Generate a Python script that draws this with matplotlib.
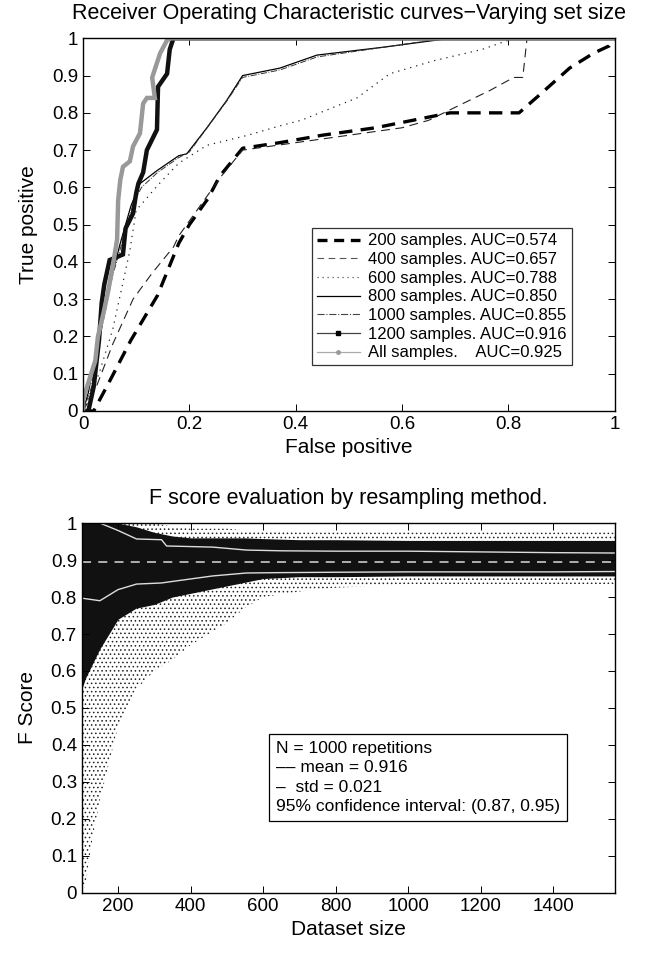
import matplotlib
matplotlib.use('Agg')
import matplotlib.pyplot as plt
from matplotlib.lines import Line2D
import numpy as np

plt.rcParams['font.family'] = ['Liberation Sans', 'DejaVu Sans']
plt.rcParams['hatch.linewidth'] = 0.6

# ---- ROC curves (false positive, true positive)
fp_200 = [0, 0.02, 0.05, 0.09, 0.14, 0.18, 0.20, 0.235, 0.257, 0.30, 0.37, 0.45, 0.55, 0.62, 0.69, 0.784, 0.82, 0.86, 0.915, 0.96, 0.99, 1.0]
tp_200 = [0, 0.0, 0.08, 0.19, 0.31, 0.45, 0.50, 0.57, 0.63, 0.705, 0.72, 0.74, 0.76, 0.78, 0.80, 0.80, 0.80, 0.85, 0.92, 0.96, 0.98, 1.0]

fp_400 = [0, 0.025, 0.056, 0.094, 0.13, 0.17, 0.18, 0.22, 0.26, 0.30, 0.45, 0.60, 0.65, 0.70, 0.765, 0.81, 0.827, 0.835, 1.0]
tp_400 = [0, 0.065, 0.18, 0.30, 0.37, 0.44, 0.47, 0.55, 0.63, 0.70, 0.73, 0.76, 0.78, 0.815, 0.86, 0.895, 0.895, 1.0, 1.0]

fp_600 = [0, 0.03, 0.056, 0.088, 0.10, 0.107, 0.14, 0.18, 0.233, 0.31, 0.37, 0.41, 0.515, 0.577, 0.66, 0.75, 0.80, 0.82, 1.0]
tp_600 = [0, 0.10, 0.22, 0.43, 0.54, 0.55, 0.605, 0.665, 0.713, 0.74, 0.765, 0.78, 0.84, 0.905, 0.94, 0.97, 0.995, 1.0, 1.0]

fp_800 = [0, 0.01, 0.03, 0.05, 0.07, 0.09, 0.107, 0.139, 0.18, 0.195, 0.233, 0.27, 0.30, 0.37, 0.44, 0.564, 0.69, 1.0]
tp_800 = [0, 0.05, 0.20, 0.34, 0.45, 0.55, 0.61, 0.645, 0.685, 0.69, 0.76, 0.833, 0.90, 0.92, 0.955, 0.976, 1.0, 1.0]

fp_1000 = [0, 0.015, 0.035, 0.055, 0.075, 0.095, 0.11, 0.14, 0.18, 0.20, 0.236, 0.272, 0.30, 0.37, 0.44, 0.56, 0.68, 1.0]
tp_1000 = [0, 0.06, 0.22, 0.36, 0.46, 0.56, 0.60, 0.64, 0.68, 0.695, 0.765, 0.835, 0.895, 0.915, 0.95, 0.975, 1.0, 1.0]

fp_1200 = [0, 0.01, 0.02, 0.03, 0.035, 0.04, 0.05, 0.075, 0.08, 0.094, 0.10, 0.104, 0.113, 0.12, 0.139, 0.141, 0.158, 0.163, 0.17, 1.0]
tp_1200 = [0, 0.0, 0.065, 0.19, 0.29, 0.34, 0.405, 0.42, 0.49, 0.53, 0.585, 0.61, 0.64, 0.70, 0.755, 0.87, 0.905, 0.97, 1.0, 1.0]

fp_all = [0, 0.0, 0.013, 0.023, 0.028, 0.038, 0.047, 0.056, 0.064, 0.066, 0.07, 0.075, 0.088, 0.094, 0.107, 0.113, 0.12, 0.135, 0.13, 0.145, 0.158, 0.165, 1.0]
tp_all = [0, 0.03, 0.09, 0.135, 0.20, 0.26, 0.32, 0.39, 0.46, 0.565, 0.62, 0.655, 0.67, 0.71, 0.745, 0.825, 0.84, 0.84, 0.895, 0.96, 0.995, 1.0, 1.0]

roc_labels = ['200 samples. AUC=0.574', '400 samples. AUC=0.657', '600 samples. AUC=0.788',
              '800 samples. AUC=0.850', '1000 samples. AUC=0.855', '1200 samples. AUC=0.916',
              'All samples.    AUC=0.925']

# ---- F score resampling cloud: envelopes
size_pts = [100, 110, 130, 150, 175, 200, 250, 300, 350, 400, 450, 500, 550, 600, 700, 800, 1000, 1200, 1400, 1570]
sparse_lo = [0.0, 0.02, 0.15, 0.25, 0.35, 0.45, 0.55, 0.60, 0.63, 0.67, 0.70, 0.73, 0.77, 0.80, 0.815, 0.825, 0.835, 0.835, 0.835, 0.835]
sparse_hi = [1.0, 1.0, 1.0, 1.0, 1.0, 1.0, 1.0, 1.0, 0.99, 0.985, 0.985, 0.985, 0.98, 0.98, 0.975, 0.975, 0.975, 0.975, 0.975, 0.975]
dense_lo = [0.55, 0.58, 0.62, 0.66, 0.70, 0.74, 0.77, 0.78, 0.80, 0.81, 0.82, 0.83, 0.84, 0.85, 0.855, 0.855, 0.857, 0.857, 0.857, 0.857]
dense_hi = [1.0, 1.0, 1.0, 1.0, 1.0, 1.0, 0.99, 0.975, 0.965, 0.96, 0.96, 0.96, 0.96, 0.958, 0.955, 0.955, 0.953, 0.953, 0.953, 0.953]

std_size = [100, 150, 200, 251, 320, 334, 461, 554, 650, 800, 1000, 1200, 1400, 1570]
std_hi = [1.0, 1.0, 0.98, 0.957, 0.955, 0.938, 0.935, 0.927, 0.925, 0.924, 0.924, 0.922, 0.92, 0.919]
std_lo = [0.797, 0.79, 0.82, 0.835, 0.838, 0.84, 0.857, 0.865, 0.866, 0.867, 0.868, 0.868, 0.868, 0.869]
f_mean = 0.895

box_text = ('N = 1000 repetitions\n'
            '\u2013\u2013 mean = 0.916\n'
            '\u2013  std = 0.021\n'
            '95% confidence interval: (0.87, 0.95)')

fig = plt.figure(figsize=(6.54, 9.58), dpi=100)

# ---------------- top: ROC curves
ax1 = fig.add_axes([0.127, 0.571, 0.813, 0.389])
ax1.plot(fp_200, tp_200, color='k', lw=2.4, ls=(0, (4, 2.5)))
ax1.plot(fp_400, tp_400, color='#222222', lw=0.8, ls=(0, (8, 5)))
ax1.plot(fp_600, tp_600, color='#222222', lw=0.9, ls=(0, (1, 4)))
ax1.plot(fp_800, tp_800, color='k', lw=0.9)
ax1.plot(fp_1000, tp_1000, color='#333333', lw=0.7, ls='-.')
ax1.plot(fp_1200, tp_1200, color='#111111', lw=3.2, solid_joinstyle='miter')
ax1.plot(fp_all, tp_all, color='#999999', lw=3.2, solid_joinstyle='miter')

handles = [
    Line2D([], [], color='k', lw=2.4, ls=(0, (3, 2))),
    Line2D([], [], color='#555555', lw=0.8, ls=(0, (6, 4))),
    Line2D([], [], color='#555555', lw=0.9, ls=(0, (1, 3))),
    Line2D([], [], color='k', lw=0.9),
    Line2D([], [], color='#444444', lw=0.8, ls='-.'),
    Line2D([], [], color='#444444', lw=0.9, marker='s', ms=2.5, mfc='k', mec='k'),
    Line2D([], [], color='#aaaaaa', lw=0.9, marker='o', ms=2.5, mfc='#999999', mec='#999999'),
]
leg = ax1.legend(handles, roc_labels, loc='lower right', bbox_to_anchor=(0.935, 0.10),
                 fontsize=12, frameon=True, fancybox=False, edgecolor='k',
                 handlelength=2.6, handletextpad=0.5, labelspacing=0.22, borderpad=0.3)
leg.get_frame().set_linewidth(0.9)

ax1.set_xlim(0, 1)
ax1.set_ylim(0, 1)
ax1.set_xticks(np.arange(0, 1.01, 0.2))
ax1.set_xticklabels(['0', '0.2', '0.4', '0.6', '0.8', '1'])
ax1.set_yticks(np.arange(0, 1.01, 0.1))
ax1.set_yticklabels(['0', '0.1', '0.2', '0.3', '0.4', '0.5', '0.6', '0.7', '0.8', '0.9', '1'])
ax1.set_xlabel('False positive', fontsize=15)
ax1.set_ylabel('True positive', fontsize=15, labelpad=10)
ax1.set_title('Receiver Operating Characteristic curves\u2212Varying set size', fontsize=15.5, pad=14)

# ---------------- bottom: F score resampling
ax2 = fig.add_axes([0.125, 0.068, 0.815, 0.386])
ax2.fill_between(size_pts, sparse_lo, sparse_hi, facecolor='white', edgecolor='#222222',
                 hatch='....', linewidth=0)
ax2.fill_between(size_pts, dense_lo, dense_hi, color='#111111', linewidth=0)
ax2.plot(std_size, std_hi, color='#dddddd', lw=1.0)
ax2.plot(std_size, std_lo, color='#dddddd', lw=1.0)
ax2.axhline(f_mean, color='#bbbbbb', lw=1.3, ls=(0, (5, 4)))

ax2.text(0.365, 0.41, box_text, transform=ax2.transAxes, fontsize=12.5, va='top', ha='left',
         linespacing=1.35,
         bbox=dict(boxstyle='square,pad=0.4', facecolor='white', edgecolor='k', linewidth=0.9))

ax2.set_xlim(100, 1570)
ax2.set_ylim(0, 1)
ax2.set_xticks(np.arange(200, 1401, 200))
ax2.set_yticks(np.arange(0, 1.01, 0.1))
ax2.set_yticklabels(['0', '0.1', '0.2', '0.3', '0.4', '0.5', '0.6', '0.7', '0.8', '0.9', '1'])
ax2.set_xlabel('Dataset size', fontsize=15)
ax2.set_ylabel('F Score', fontsize=15, labelpad=10)
ax2.set_title('F score evaluation by resampling method.', fontsize=15.5, pad=14)

for ax in (ax1, ax2):
    ax.tick_params(direction='in', top=True, right=True, labelsize=13.5, length=5, width=0.7)
    for s in ax.spines.values():
        s.set_linewidth(1.0)

fig.savefig('out.png', dpi=100)
